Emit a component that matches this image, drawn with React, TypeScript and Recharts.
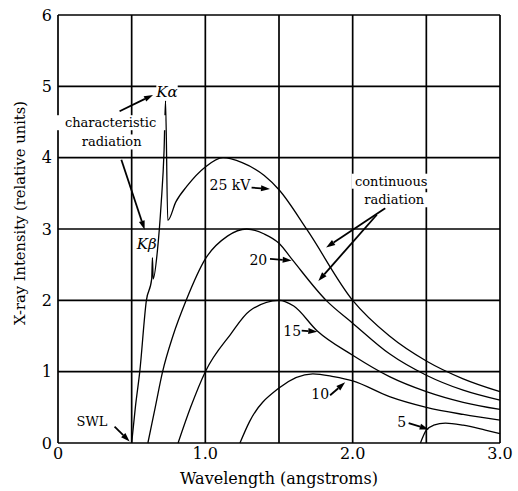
import { CartesianGrid, Line, LineChart, ReferenceDot, ReferenceLine, XAxis, YAxis } from "recharts";

const FONT = "'DejaVu Serif', serif";

const xTicks = [0, 0.5, 1, 1.5, 2, 2.5, 3];
const yTicks = [0, 1, 2, 3, 4, 5, 6];

// w = wavelength (angstroms), i = intensity
const kv25 = [
  { w: 0.5, i: 0 }, { w: 0.525, i: 0.5 }, { w: 0.555, i: 1.0 }, { w: 0.6, i: 2.0 },
  { w: 0.636, i: 2.3 }, { w: 0.641, i: 2.6 }, { w: 0.646, i: 2.3 }, { w: 0.675, i: 2.7 },
  { w: 0.7, i: 3.35 }, { w: 0.72, i: 4.1 }, { w: 0.73, i: 4.8 }, { w: 0.745, i: 3.12 },
  { w: 0.8, i: 3.38 }, { w: 0.875, i: 3.6 }, { w: 1.0, i: 3.87 }, { w: 1.12, i: 4.0 },
  { w: 1.25, i: 3.93 }, { w: 1.4, i: 3.75 }, { w: 1.5, i: 3.55 }, { w: 1.69, i: 2.99 },
  { w: 2.0, i: 2.0 }, { w: 2.25, i: 1.5 }, { w: 2.5, i: 1.15 }, { w: 2.75, i: 0.9 }, { w: 3.0, i: 0.72 },
];
const kv20 = [
  { w: 0.61, i: 0 }, { w: 0.66, i: 0.5 }, { w: 0.71, i: 1.0 }, { w: 0.78, i: 1.5 },
  { w: 0.87, i: 2.0 }, { w: 1.0, i: 2.58 }, { w: 1.15, i: 2.9 }, { w: 1.28, i: 3.0 },
  { w: 1.4, i: 2.93 }, { w: 1.5, i: 2.8 }, { w: 1.59, i: 2.57 }, { w: 1.82, i: 2.0 },
  { w: 2.0, i: 1.68 }, { w: 2.25, i: 1.25 }, { w: 2.5, i: 0.95 }, { w: 2.75, i: 0.74 }, { w: 3.0, i: 0.6 },
];
const kv15 = [
  { w: 0.815, i: 0 }, { w: 0.9, i: 0.5 }, { w: 1.0, i: 1.0 }, { w: 1.17, i: 1.52 },
  { w: 1.3, i: 1.85 }, { w: 1.5, i: 2.0 }, { w: 1.6, i: 1.92 }, { w: 1.76, i: 1.57 },
  { w: 2.0, i: 1.23 }, { w: 2.25, i: 0.93 }, { w: 2.5, i: 0.72 }, { w: 2.75, i: 0.57 }, { w: 3.0, i: 0.47 },
];
const kv10 = [
  { w: 1.235, i: 0 }, { w: 1.3, i: 0.3 }, { w: 1.5, i: 0.77 }, { w: 1.73, i: 0.97 },
  { w: 1.87, i: 0.93 }, { w: 2.0, i: 0.87 }, { w: 2.25, i: 0.65 }, { w: 2.5, i: 0.5 },
  { w: 2.75, i: 0.4 }, { w: 3.0, i: 0.32 },
];
const kv5 = [
  { w: 2.46, i: 0 }, { w: 2.5, i: 0.18 }, { w: 2.55, i: 0.25 }, { w: 2.63, i: 0.28 },
  { w: 2.75, i: 0.25 }, { w: 2.9, i: 0.18 }, { w: 3.0, i: 0.13 },
];

const series = [kv25, kv20, kv15, kv10, kv5];

// annotation texts, anchored in data coordinates
const notes = [
  { text: "Kα", x: 0.74, y: 4.92, size: 15, italic: true, bg: true },
  { text: "characteristic", x: 0.357, y: 4.49, size: 13, italic: false, bg: true },
  { text: "radiation", x: 0.364, y: 4.22, size: 13, italic: false, bg: true },
  { text: "Kβ", x: 0.602, y: 2.79, size: 15, italic: true, bg: false },
  { text: "25 kV", x: 1.167, y: 3.62, size: 14, italic: false, bg: false },
  { text: "20", x: 1.36, y: 2.57, size: 14, italic: false, bg: false },
  { text: "15", x: 1.59, y: 1.57, size: 14, italic: false, bg: false },
  { text: "10", x: 1.78, y: 0.69, size: 14, italic: false, bg: false },
  { text: "5", x: 2.333, y: 0.29, size: 14, italic: false, bg: false },
  { text: "SWL", x: 0.231, y: 0.3, size: 13, italic: false, bg: false },
  { text: "continuous", x: 2.262, y: 3.67, size: 13, italic: false, bg: true },
  { text: "radiation", x: 2.282, y: 3.41, size: 13, italic: false, bg: true },
];

// arrows: [from, to] in data coordinates, head at "to"
const arrows = [
  [{ x: 0.418, y: 4.65 }, { x: 0.645, y: 4.88 }],
  [{ x: 0.43, y: 3.97 }, { x: 0.588, y: 2.99 }],
  [{ x: 1.314, y: 3.58 }, { x: 1.439, y: 3.56 }],
  [{ x: 1.439, y: 2.58 }, { x: 1.586, y: 2.56 }],
  [{ x: 1.654, y: 1.575 }, { x: 1.76, y: 1.56 }],
  [{ x: 1.847, y: 0.67 }, { x: 1.949, y: 0.85 }],
  [{ x: 2.38, y: 0.28 }, { x: 2.516, y: 0.19 }],
  [{ x: 0.384, y: 0.23 }, { x: 0.486, y: 0.02 }],
  [{ x: 2.221, y: 3.29 }, { x: 1.82, y: 2.74 }],
  [{ x: 2.164, y: 3.2 }, { x: 1.767, y: 2.27 }],
];

function Arrow(p: any) {
  const { x1, y1, x2, y2 } = p;
  const a = Math.atan2(y2 - y1, x2 - x1);
  const len = 9;
  const half = 3;
  const bx = x2 - len * Math.cos(a);
  const by = y2 - len * Math.sin(a);
  const nx = -Math.sin(a) * half;
  const ny = Math.cos(a) * half;
  return (
    <g>
      <line x1={x1} y1={y1} x2={bx} y2={by} stroke="#000" strokeWidth={1.8} />
      <polygon points={`${x2},${y2} ${bx + nx},${by + ny} ${bx - nx},${by - ny}`} fill="#000" />
    </g>
  );
}

function Note(p: any, n: (typeof notes)[number]) {
  const w = n.text.length * n.size * 0.58;
  const h = n.size + 2;
  return (
    <g>
      {n.bg && <rect x={p.cx - w / 2 - 2} y={p.cy - h / 2} width={w + 4} height={h} fill="#fff" />}
      <text
        x={p.cx}
        y={p.cy}
        textAnchor="middle"
        dominantBaseline="central"
        fontFamily={FONT}
        fontSize={n.size}
        fontStyle={n.italic ? "italic" : "normal"}
        fill="#000"
      >
        {n.text}
      </text>
    </g>
  );
}

const fmtX = (v: number) => (v === 0 ? "0" : Number.isInteger(v) ? v.toFixed(1) : "");

export default function App() {
  const tick = { fontFamily: FONT, fontSize: 16, fill: "#000" };
  return (
    <div style={{ position: "absolute", left: 0, top: 0, background: "#fff" }}>
      <LineChart width={518} height={491} margin={{ top: 15, right: 18, bottom: 0, left: 0 }}>
        <CartesianGrid stroke="#000" strokeWidth={1.7} />
        <XAxis
          type="number"
          dataKey="w"
          domain={[0, 3]}
          ticks={xTicks}
          tickFormatter={fmtX}
          axisLine={false}
          tickLine={false}
          tickSize={0}
          tickMargin={5}
          tick={tick}
          height={48}
          label={{
            value: "Wavelength (angstroms)",
            position: "center",
            dy: 11,
            style: { fontFamily: FONT, fontSize: 16, fill: "#000" },
          }}
        />
        <YAxis
          type="number"
          domain={[0, 6]}
          ticks={yTicks}
          axisLine={false}
          tickLine={false}
          tickSize={0}
          tickMargin={6}
          tick={tick}
          width={58}
          label={{
            value: "X-ray Intensity (relative units)",
            angle: -90,
            position: "center",
            dx: -9,
            dy: -16,
            style: { fontFamily: FONT, fontSize: 14.7, fill: "#000" },
          }}
        />
        {notes.map((n, k) => (
          <ReferenceDot key={"n" + k} x={n.x} y={n.y} r={0} shape={(p: any) => Note(p, n)} />
        ))}
        {series.map((d, k) => (
          <Line
            key={k}
            data={d}
            dataKey="i"
            type="monotone"
            stroke="#000"
            strokeWidth={1.3}
            dot={false}
            isAnimationActive={false}
          />
        ))}
        {arrows.map((s, k) => (
          <ReferenceLine key={"a" + k} segment={s} shape={Arrow} />
        ))}
      </LineChart>
    </div>
  );
}
